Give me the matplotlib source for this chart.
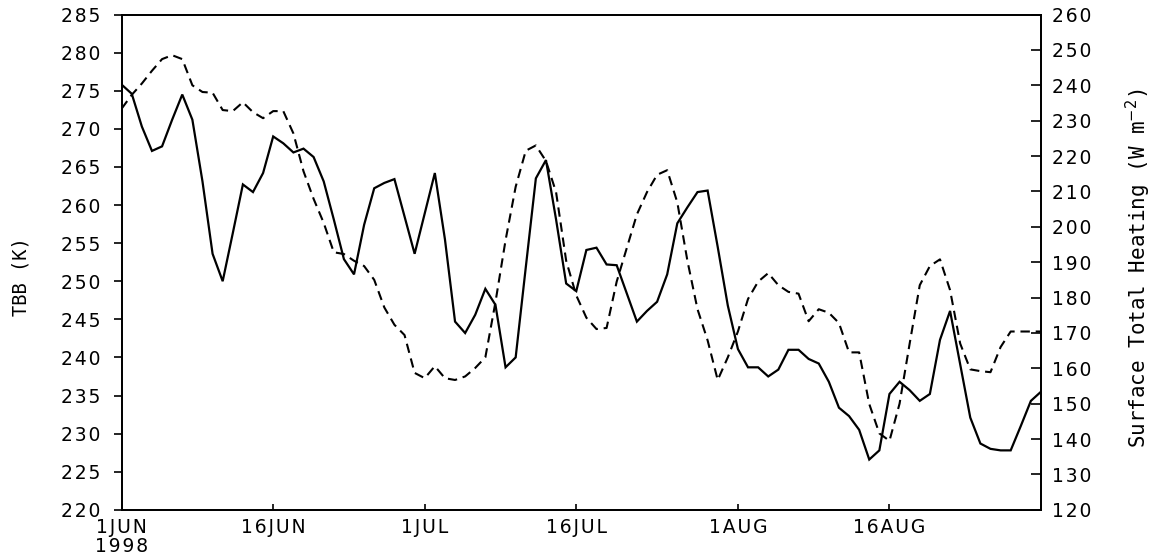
import matplotlib
matplotlib.use("Agg")
import matplotlib.pyplot as plt
from matplotlib.ticker import FuncFormatter
import numpy as np

#######################################
#### Data (daily, 1 Jun - 31 Aug 1998)
#######################################
days = np.arange(92)                      #day index from 1JUN

tbb = [275.8, 274.6, 270.3, 267.1, 267.7, 271.2, 274.5, 271.2, 263.1, 253.6,
       250.0, 256.3, 262.7, 261.7, 264.2, 269.0, 268.1, 266.9, 267.4, 266.3,
       263.1, 258.1, 252.9, 250.9, 257.4, 262.2, 262.9, 263.4, 258.5, 253.6,
       258.9, 264.2, 255.5, 244.7, 243.2, 245.6, 249.0, 246.9, 238.7, 240.0,
       251.8, 263.5, 265.9, 258.1, 249.7, 248.7, 254.1, 254.4, 252.2, 252.1,
       248.4, 244.7, 246.1, 247.3, 250.9, 257.6, 259.7, 261.7, 261.9, 254.5,
       246.8, 241.1, 238.7, 238.7, 237.5, 238.4, 241.0, 241.0, 239.8, 239.2,
       236.8, 233.4, 232.3, 230.5, 226.6, 227.8, 235.2, 236.8, 235.7, 234.3,
       235.2, 242.3, 246.1, 239.1, 232.1, 228.7, 228.0, 227.8, 227.8, 231.0,
       234.3, 235.5]

heat = [233.4, 237.3, 240.5, 244.1, 247.4, 248.5, 247.4, 240.0, 238.1, 237.9,
        233.0, 232.7, 235.2, 232.4, 230.7, 232.7, 232.7, 226.4, 215.7, 207.9,
        201.1, 192.8, 192.3, 190.4, 188.9, 185.0, 177.2, 172.3, 169.4, 158.7,
        157.2, 160.6, 157.2, 156.7, 157.7, 160.1, 163.1, 178.7, 196.2, 211.3,
        221.5, 223.0, 218.6, 209.8, 190.4, 180.6, 174.3, 171.1, 171.4, 184.5,
        194.0, 203.5, 209.8, 214.7, 216.0, 206.9, 190.4, 176.7, 167.9, 156.7,
        163.1, 170.4, 179.6, 184.5, 186.9, 183.5, 181.6, 181.1, 173.3, 176.7,
        175.7, 172.8, 164.5, 164.5, 149.9, 141.6, 139.5, 150.0, 167.0, 183.5,
        188.9, 190.8, 182.1, 167.0, 159.7, 159.2, 158.9, 166.0, 170.4, 170.4,
        170.4, 170.4]

xtick_pos = [0, 15, 30, 45, 61, 76]
xtick_lab = ["1JUN\n1998", "16JUN", "1JUL", "16JUL", "1AUG", "16AUG"]
left_ticks = np.arange(220, 286, 5)
right_ticks = np.arange(120, 261, 10)

#######################################
#### Plot
#######################################
SP = "\u200a"                              #hair space for wide lettering

def spaced(s):
   return "\n".join(SP.join(line) for line in s.split("\n"))

fig = plt.figure(figsize=(11.63, 5.59), dpi=100)
ax = fig.add_axes([0.1046, 0.088, 0.7905, 0.886])
ax2 = ax.twinx()

ax.plot(days, tbb, color="black", lw=1.6, solid_joinstyle="miter")
ax2.plot(days, heat, color="black", lw=1.5, linestyle=(0, (4.5, 2.8)))

ax.set_xlim(0, 91)
ax.set_ylim(220, 285)
ax2.set_ylim(120, 260)

ax.set_yticks(left_ticks)
ax2.set_yticks(right_ticks)
ax.yaxis.set_major_formatter(FuncFormatter(lambda v, p: spaced("%d" % v)))
ax2.yaxis.set_major_formatter(FuncFormatter(lambda v, p: spaced("%d" % v)))
ax.set_xticks(xtick_pos)
ax.set_xticklabels([spaced(t) for t in xtick_lab], linespacing=1.0)

ax.tick_params(axis="y", direction="out", length=6, width=1.2, pad=9,
               labelsize=13.5, left=True, right=False)
ax2.tick_params(axis="y", direction="in", length=7, width=1.2, pad=8,
                labelsize=13.5)
ax.tick_params(axis="x", direction="in", length=4, width=1.2, pad=6,
               labelsize=13.5)

for a in (ax, ax2):
   for s in a.spines.values():
      s.set_linewidth(1.3)

fig.text(21/1163, 1-277/559, "TBB (K)", rotation=90, ha="center", va="center",
         family="DejaVu Sans Mono", fontsize=13.5)
fig.text(1138/1163, 1-268/559, "Surface Total Heating (W m$^{-2}$)",
         rotation=90, ha="center", va="center",
         family="DejaVu Sans Mono", fontsize=15)

fig.savefig("out.png", dpi=100)
